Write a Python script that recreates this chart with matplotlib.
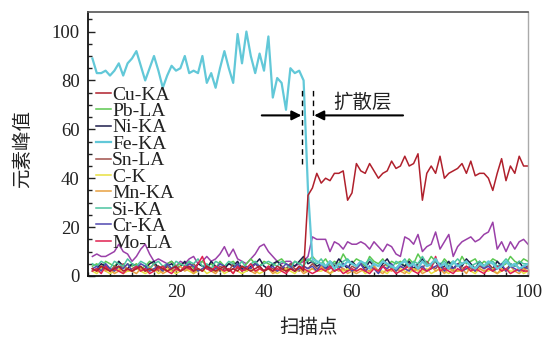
import matplotlib
matplotlib.use('Agg')
import matplotlib.pyplot as plt
import numpy as np
from matplotlib.ticker import MultipleLocator

# 扫描点 1..100
x = np.arange(1, 101)

cu_ka = [3, 2, 4, 3, 2, 3, 4, 2, 3, 2,
         3, 4, 2, 3, 2, 4, 3, 2, 3, 4,
         2, 3, 4, 2, 3, 2, 4, 3, 2, 3,
         4, 2, 3, 2, 4, 3, 2, 3, 4, 2,
         3, 2, 4, 3, 2, 3, 2, 4, 2, 33,
         36, 42, 38, 40, 39, 42, 42, 43, 31, 34,
         46, 43, 42, 46, 43, 40, 42, 43, 47, 44,
         45, 49, 45, 46, 50, 31, 42, 45, 42, 49,
         40, 42, 43, 44, 46, 42, 47, 41, 42, 42,
         40, 35, 42, 48, 39, 45, 42, 49, 45, 45]
pb_la = [4, 5, 3, 6, 5, 4, 6, 3, 5, 4,
         5, 3, 4, 6, 5, 4, 3, 5, 6, 4,
         5, 4, 6, 3, 5, 6, 4, 5, 3, 6,
         4, 5, 6, 4, 3, 5, 7, 5, 4, 6,
         5, 4, 6, 7, 5, 4, 6, 5, 7, 6,
         8, 6, 5, 7, 4, 6, 5, 9, 6, 5,
         7, 6, 4, 8, 6, 5, 7, 4, 6, 5,
         6, 4, 7, 5, 9, 6, 5, 8, 6, 4,
         7, 5, 6, 4, 8, 5, 6, 7, 4, 6,
         5, 7, 6, 4, 5, 8, 6, 5, 7, 6]
ni_ka = [2, 3, 5, 4, 2, 3, 6, 4, 3, 5,
         4, 2, 3, 5, 6, 3, 2, 4, 5, 3,
         4, 6, 3, 2, 5, 4, 3, 6, 4, 2,
         3, 5, 4, 6, 3, 2, 4, 5, 7, 4,
         3, 5, 6, 4, 2, 5, 4, 6, 8, 5,
         6, 4, 5, 3, 6, 4, 7, 5, 3, 6,
         4, 5, 3, 6, 4, 2, 5, 7, 4, 3,
         5, 4, 6, 3, 5, 7, 4, 5, 6, 3,
         4, 6, 3, 5, 4, 7, 5, 3, 6, 4,
         5, 3, 6, 4, 2, 5, 4, 6, 3, 4]
fe_ka = [89, 83, 83, 84, 82, 84, 87, 82, 87, 89,
         92, 86, 80, 85, 90, 84, 77, 82, 86, 84,
         85, 90, 83, 84, 83, 90, 79, 83, 77, 85,
         92, 85, 79, 99, 87, 100, 90, 83, 91, 84,
         98, 73, 81, 79, 68, 85, 83, 84, 80, 35,
         7, 6, 5, 4, 6, 3, 5, 4, 6, 5,
         4, 6, 5, 3, 5, 4, 6, 5, 4, 3,
         5, 6, 4, 5, 3, 6, 4, 5, 7, 4,
         5, 3, 6, 4, 5, 6, 4, 3, 5, 4,
         6, 5, 3, 4, 6, 4, 5, 3, 4, 5]
sn_la = [3, 2, 4, 3, 2, 4, 3, 5, 2, 3,
         4, 3, 2, 3, 5, 2, 3, 4, 2, 3,
         2, 4, 3, 5, 3, 2, 4, 3, 2, 4,
         3, 2, 5, 3, 4, 2, 3, 5, 3, 2,
         4, 3, 2, 4, 3, 5, 3, 2, 4, 3,
         5, 3, 4, 2, 3, 5, 4, 3, 2, 4,
         3, 5, 2, 4, 3, 2, 4, 5, 3, 2,
         4, 3, 5, 2, 4, 3, 6, 4, 3, 5,
         3, 4, 2, 5, 3, 4, 3, 2, 4, 3,
         5, 3, 4, 2, 3, 4, 5, 3, 2, 4]
c_k = [2, 1, 3, 2, 1, 2, 3, 1, 2, 2,
       3, 2, 1, 2, 3, 1, 2, 3, 2, 1,
       2, 3, 2, 1, 2, 3, 1, 2, 2, 3,
       1, 2, 3, 2, 1, 2, 3, 2, 1, 2,
       3, 2, 1, 2, 3, 2, 1, 3, 2, 2,
       3, 2, 2, 3, 1, 2, 3, 2, 3, 2,
       2, 3, 1, 2, 3, 2, 2, 1, 3, 2,
       3, 2, 1, 3, 2, 2, 3, 1, 2, 3,
       2, 1, 3, 2, 2, 3, 2, 1, 3, 2,
       2, 3, 1, 2, 3, 2, 2, 3, 1, 2]
mn_ka = [3, 2, 4, 2, 3, 1, 2, 4, 3, 2,
         1, 3, 2, 4, 2, 3, 1, 2, 3, 2,
         4, 2, 3, 1, 3, 2, 4, 2, 1, 3,
         2, 3, 1, 4, 2, 3, 2, 1, 3, 2,
         3, 1, 2, 3, 2, 4, 2, 3, 1, 2,
         3, 2, 4, 2, 1, 3, 2, 3, 1, 2,
         1, 2, 3, 2, 4, 2, 1, 3, 2, 3,
         2, 1, 3, 2, 3, 1, 2, 4, 2, 3,
         1, 3, 2, 2, 3, 1, 4, 2, 3, 2,
         3, 2, 1, 3, 2, 4, 2, 1, 3, 2]
si_ka = [5, 4, 6, 5, 3, 6, 5, 4, 7, 5,
         4, 6, 5, 3, 5, 6, 4, 5, 3, 6,
         5, 4, 6, 5, 7, 4, 5, 3, 6, 5,
         4, 6, 5, 4, 6, 3, 5, 6, 4, 5,
         6, 5, 4, 6, 5, 3, 6, 5, 4, 7,
         6, 5, 7, 4, 6, 5, 3, 6, 7, 5,
         4, 6, 5, 7, 5, 4, 6, 5, 3, 6,
         5, 7, 4, 6, 5, 8, 5, 4, 6, 5,
         6, 4, 5, 7, 5, 6, 4, 5, 6, 4,
         5, 6, 4, 5, 7, 5, 4, 6, 5, 5]
cr_ka = [3, 4, 2, 5, 3, 2, 4, 3, 5, 2,
         3, 5, 4, 2, 3, 4, 2, 5, 3, 4,
         2, 3, 5, 4, 2, 3, 4, 2, 3, 5,
         4, 2, 3, 5, 2, 4, 3, 5, 4, 2,
         3, 4, 2, 3, 5, 4, 2, 3, 4, 3,
         4, 2, 5, 3, 4, 2, 3, 5, 4, 2,
         3, 5, 2, 4, 3, 1, 4, 3, 5, 2,
         4, 3, 2, 5, 3, 4, 2, 3, 4, 5,
         2, 4, 3, 5, 2, 3, 4, 2, 5, 3,
         4, 2, 3, 5, 2, 4, 3, 2, 4, 3]
mo_la = [2, 3, 1, 4, 2, 3, 2, 1, 3, 2,
         4, 2, 3, 1, 2, 3, 4, 2, 1, 3,
         2, 4, 3, 2, 5, 8, 3, 2, 4, 3,
         2, 3, 1, 4, 2, 3, 5, 2, 3, 2,
         4, 2, 3, 2, 1, 3, 2, 4, 3, 2,
         1, 2, 3, 2, 4, 2, 3, 1, 2, 3,
         2, 3, 2, 1, 3, 2, 4, 2, 3, 1,
         2, 3, 4, 2, 1, 3, 2, 3, 8, 2,
         3, 2, 1, 3, 2, 4, 2, 3, 2, 1,
         3, 2, 4, 2, 3, 1, 2, 3, 2, 2]
# 紫色曲线（图例中未列出）
purple = [8, 9, 8, 8, 9, 10, 13, 10, 9, 6,
          8, 11, 13, 9, 6, 7, 6, 5, 6, 4,
          6, 5, 7, 8, 5, 6, 8, 6, 7, 9,
          12, 8, 11, 7, 6, 5, 7, 9, 12, 13,
          10, 8, 6, 5, 6, 6, 4, 5, 6, 8,
          16, 15, 15, 15, 10, 14, 13, 11, 14, 13,
          13, 14, 13, 11, 14, 12, 10, 13, 12, 9,
          8, 16, 15, 13, 17, 10, 12, 13, 18, 11,
          14, 17, 8, 12, 14, 15, 16, 14, 15, 17,
          18, 22, 11, 14, 10, 14, 11, 14, 15, 13]

names = ['Cu-KA', 'Pb-LA', 'Ni-KA', 'Fe-KA', 'Sn-LA', 'C-K', 'Mn-KA', 'Si-KA', 'Cr-KA', 'Mo-LA']
series = [cu_ka, pb_la, ni_ka, fe_ka, sn_la, c_k, mn_ka, si_ka, cr_ka, mo_la]
colors = ['#b0202c', '#5cc850', '#1c1c4c', '#62c8d8', '#a0504a', '#e8e040', '#e8a040', '#4cc4a0', '#5048b0', '#e02050']

serif = 'Liberation Serif'
cjk = ['Noto Sans CJK SC', 'DejaVu Sans']

fig = plt.figure(figsize=(5.44, 3.4), dpi=100)
ax = fig.add_axes([88 / 544, 64 / 340, 440 / 544, 264 / 340])

ax.plot(x, purple, color='#9a40a8', lw=1.1)
# 绘制顺序：低值噪声先画，Fe 和 Cu 在上层
order = [1, 2, 4, 5, 6, 7, 8, 9, 3, 0]
handles = {}
for i in order:
    lw = 1.6 if names[i] == 'Fe-KA' else 1.1
    ln, = ax.plot(x, series[i], color=colors[i], lw=lw, label=names[i])
    handles[i] = ln

ax.set_xlim(0, 100)
ax.set_ylim(0, 108)
ax.xaxis.set_major_locator(MultipleLocator(20))
ax.xaxis.set_minor_locator(MultipleLocator(5))
ax.yaxis.set_major_locator(MultipleLocator(20))
ax.yaxis.set_minor_locator(MultipleLocator(5))
ax.set_xticks([20, 40, 60, 80, 100])
ax.tick_params(which='both', direction='in', top=False, right=False, width=1, colors='#222222')
ax.tick_params(which='major', length=5, labelsize=13.5, pad=6)
ax.tick_params(which='minor', length=3)
for lab in ax.get_xticklabels() + ax.get_yticklabels():
    lab.set_fontfamily(serif)
    lab.set_color('#222222')

for s in ['left', 'bottom']:
    ax.spines[s].set_linewidth(1.3)
    ax.spines[s].set_color('#111111')
ax.spines['top'].set_color('#555555')
ax.spines['top'].set_linewidth(1.2)
ax.spines['right'].set_color('#aaaaaa')
ax.spines['right'].set_linewidth(1.0)

# 扩散层标注
ax.vlines([48.7, 51.2], 46, 77, colors='black', linestyles=(0, (4, 3)), lw=1)
ax.annotate('', xy=(48.5, 65.7), xytext=(39.5, 65.7),
            arrowprops=dict(arrowstyle='-|>', color='black', lw=1.5, mutation_scale=14, shrinkA=0, shrinkB=0))
ax.annotate('', xy=(51.4, 65.7), xytext=(71.6, 65.7),
            arrowprops=dict(arrowstyle='-|>', color='black', lw=1.5, mutation_scale=14, shrinkA=0, shrinkB=0))
ax.text(62.5, 71.2, '扩散层', family=cjk, fontsize=14, ha='center', va='center', color='#222222')

leg = ax.legend([handles[i] for i in range(10)], names, loc='upper left',
                bbox_to_anchor=(8 / 440, 190 / 264), frameon=False, borderpad=0,
                borderaxespad=0, handlelength=0.78, handletextpad=0.05, labelspacing=-0.06,
                prop={'family': serif, 'size': 14})
for t in leg.get_texts():
    t.set_color('#222222')

ax.set_xlabel('扫描点', family=cjk, fontsize=14, color='#222222')
ax.set_ylabel('元素峰值', family=cjk, fontsize=14, color='#222222')
ax.xaxis.set_label_coords(0.5, -0.155)
ax.yaxis.set_label_coords(-0.125, 0.48)

fig.savefig('out.png', dpi=100)
